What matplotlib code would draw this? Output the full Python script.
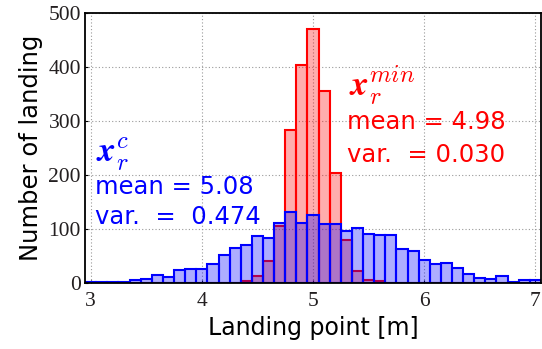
import numpy as np
import matplotlib
matplotlib.use('Agg')
import matplotlib.pyplot as plt

# Histogram counts per 0.1 m bin, bins centred on 3.0 ... 7.0
bin_centers = np.round(np.arange(3.0, 7.05, 0.1), 2)

counts_c = [3, 2, 3, 3, 6, 8, 16, 12, 25, 26,
            26, 35, 52, 66, 70, 87, 84, 112, 131, 111,
            127, 109, 110, 96, 103, 91, 89, 89, 64, 59,
            44, 35, 37, 28, 17, 10, 9, 13, 3, 6, 7]

counts_min = [0, 0, 0, 0, 0, 0, 0, 0, 0, 0,
              0, 0, 0, 1, 5, 13, 42, 106, 284, 404,
              470, 355, 203, 80, 23, 7, 4, 1, 0, 0,
              0, 0, 0, 0, 0, 0, 0, 0, 0, 0, 0]

stats_c = {'mean': '5.08', 'var': '0.474'}
stats_min = {'mean': '4.98', 'var': '0.030'}

edges = np.append(bin_centers - 0.05, bin_centers[-1] + 0.05)

plt.rcParams['mathtext.fontset'] = 'cm'

fig = plt.figure(figsize=(5.42, 3.49), dpi=100)
ax = fig.add_axes([0.157, 0.188, 0.841, 0.776])

ax.hist(bin_centers, bins=edges, weights=counts_min,
        facecolor=(1, 0, 0, 0.32), edgecolor='red', linewidth=1.5)
ax.hist(bin_centers, bins=edges, weights=counts_c,
        facecolor=(0, 0, 1, 0.32), edgecolor='blue', linewidth=1.5)

ax.set_xlim(edges[0], edges[-1])
ax.set_ylim(0, 500)
ax.set_xticks([3, 4, 5, 6, 7])
ax.set_yticks([0, 100, 200, 300, 400, 500])
ax.grid(True, color='#999999', linestyle=(0, (1, 2)), linewidth=0.8)
ax.set_axisbelow(True)
for lab in ax.get_xticklabels() + ax.get_yticklabels():
    lab.set_family('Liberation Serif')
    lab.set_fontsize(15.5)
    lab.set_color('#231f20')
ax.tick_params(direction='in', length=2, pad=3)
ax.tick_params(axis='x', pad=6)
for sp in ax.spines.values():
    sp.set_linewidth(1.3)

ax.set_xlabel('Landing point [m]', fontsize=17, family='DejaVu Sans', labelpad=4)
ax.set_ylabel('Number of landing', fontsize=17.5, family='DejaVu Sans', labelpad=4)

# statistics annotations
ax.text(3.05, 225, r'$\mathbfit{x}_r^{c}$', color='blue', fontsize=25)
ax.text(3.04, 165, 'mean = ' + stats_c['mean'], color='blue', fontsize=17.5)
ax.text(3.04, 110, 'var.  =  ' + stats_c['var'], color='blue', fontsize=17.5)

ax.text(5.32, 345, r'$\mathbfit{x}_r^{min}$', color='red', fontsize=25)
ax.text(5.31, 285, 'mean = ' + stats_min['mean'], color='red', fontsize=17.5)
ax.text(5.31, 225, 'var.  = ' + stats_min['var'], color='red', fontsize=17.5)

fig.savefig('out.png', dpi=100)
